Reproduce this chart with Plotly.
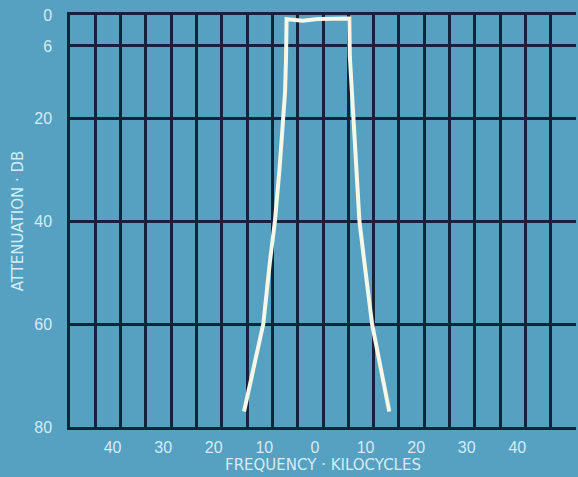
import plotly.graph_objects as go

# passband response (kHz off centre, dB)
freq_khz = [-14.6, -12.6, -10.8, -9.5, -8.5, -7.6, -6.9, -6.5, -6.3, -6.2,
            -5.0, -3.0, 0.0, 3.0, 6.2,
            6.3, 6.8, 7.0, 7.5, 8.2, 9.3, 10.7, 12.4, 14.1]
atten_db = [77.0, 68.5, 60.0, 48.0, 40.0, 30.0, 20.0, 15.0, 8.0, 0.8,
            0.9, 1.1, 0.8, 0.7, 0.7,
            8.0, 16.0, 20.0, 30.0, 40.0, 49.0, 60.0, 68.5, 77.0]

x_ticks = [-40, -30, -20, -10, 0, 10, 20, 30, 40]
x_labels = ["40", "30", "20", "10", "0", "10", "20", "30", "40"]
y_ticks = [0, 6, 20, 40, 60, 80]

bg = "#56a0c1"
ink = "#14223a"
txt = "#d4ecf3"

fig = go.Figure()
fig.add_trace(go.Scatter(
    x=freq_khz, y=atten_db,
    mode="lines",
    line=dict(color="#f6f7e6", width=4),
    hoverinfo="skip",
))

fig.update_layout(
    width=578, height=477,
    paper_bgcolor=bg, plot_bgcolor=bg,
    margin=dict(l=70, r=2, t=15, b=50),
    showlegend=False,
    font=dict(family="Liberation Sans, Arial, sans-serif", color=txt, size=16),
    xaxis=dict(
        range=[-49, 51],
        tickvals=x_ticks, ticktext=x_labels,
        showgrid=False, zeroline=False,
        ticks="", ticklabelstandoff=4, ticklabelshift=-3,
        showline=True, mirror=True, linecolor=ink, linewidth=2.5,
        minor=dict(tick0=1, dtick=5, showgrid=True,
                   gridcolor=ink, gridwidth=2.5, ticks=""),
        title=dict(text="FREQUENCY · KILOCYCLES", standoff=0,
                   font=dict(family="DejaVu Sans, sans-serif", size=15, color=txt)),
    ),
    yaxis=dict(
        range=[80, 0],
        tickvals=y_ticks,
        showgrid=True, gridcolor=ink, gridwidth=2.5,
        zeroline=False,
        ticks="", ticklabelstandoff=12,
        showline=True, linecolor=ink, linewidth=2.5,
        title=dict(text="ATTENUATION · DB", standoff=8,
                   font=dict(family="DejaVu Sans, sans-serif", size=15, color=txt)),
    ),
)

# drop the page's default body margin so the figure fills the window
fig.write_html(
    "out.html",
    config={"displayModeBar": False},
    post_script="document.body.style.margin='0';"
                "document.body.style.background='" + bg + "';",
)
